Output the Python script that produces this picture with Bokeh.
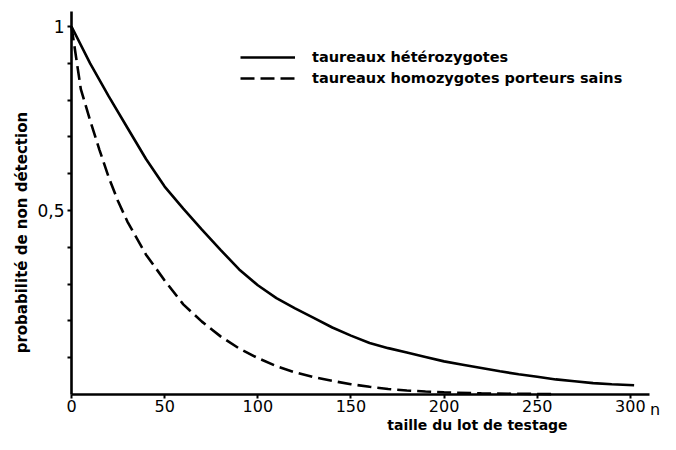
import math
from bokeh.plotting import figure
from bokeh.models import Range1d, FixedTicker, Legend, LegendItem, Label
from bokeh.embed import file_html
from bokeh.resources import INLINE

# taille du lot de testage (n)
n_het = [0, 10, 20, 30, 40, 50, 60, 70, 80, 90, 100, 110, 120, 130, 140, 150,
         160, 170, 180, 190, 200, 210, 220, 230, 240, 250, 260, 270, 280, 290, 302]
# probabilité de non détection, taureaux hétérozygotes
p_het = [1.0, 0.90, 0.81, 0.725, 0.64, 0.565, 0.505, 0.448, 0.393, 0.340, 0.297,
         0.262, 0.234, 0.208, 0.182, 0.160, 0.140, 0.126, 0.114, 0.102, 0.090,
         0.081, 0.072, 0.063, 0.055, 0.048, 0.041, 0.036, 0.031, 0.028, 0.025]

n_hom = [0, 5, 10, 15, 20, 25, 30, 40, 50, 60, 70, 80, 90, 100, 110, 120, 130,
         140, 150, 160, 170, 180, 190, 200, 220, 240, 260]
# probabilité de non détection, taureaux homozygotes porteurs sains
p_hom = [1.0, 0.83, 0.745, 0.665, 0.59, 0.525, 0.47, 0.38, 0.31, 0.245, 0.198,
         0.158, 0.125, 0.099, 0.077, 0.060, 0.047, 0.037, 0.028, 0.021, 0.015,
         0.011, 0.008, 0.006, 0.003, 0.002, 0.001]

x_ticks = [0, 50, 100, 150, 200, 250, 300]
y_ticks = [0.1, 0.2, 0.3, 0.4, 0.5, 0.6, 0.7, 0.8, 0.9, 1.0]
y_labels = {0.5: "0,5", 1.0: "1"}

FONT = "DejaVu Sans"

p = figure(width=660, height=434, output_backend="svg", toolbar_location=None,
           x_range=Range1d(-38.11, 316.16), y_range=Range1d(-0.1087, 1.0707),
           min_border_left=0, min_border_right=0, min_border_top=0,
           min_border_bottom=0)
p.outline_line_color = None
p.xgrid.visible = False
p.ygrid.visible = False

r1 = p.line(n_het, p_het, line_color="black", line_width=2.6)
r2 = p.line(n_hom, p_hom, line_color="black", line_width=2.6, line_dash="14 6")

for ax in (p.xaxis[0], p.yaxis[0]):
    ax.fixed_location = 0
    ax.axis_line_width = 2.6
    ax.axis_line_color = "black"
    ax.major_tick_line_width = 2
    ax.major_tick_in = 0
    ax.major_tick_out = 4
    ax.minor_tick_line_color = None
    ax.major_label_text_font = FONT
    ax.major_label_text_color = "black"

p.xaxis.ticker = FixedTicker(ticks=x_ticks)
p.xaxis.bounds = (0, 310.5)
p.xaxis.major_label_text_font_size = "16px"
p.xaxis.major_label_standoff = 1
p.yaxis.ticker = FixedTicker(ticks=y_ticks)
p.yaxis.bounds = (0, 1.0408)
p.yaxis.major_label_overrides = {t: y_labels.get(t, "") for t in y_ticks}
p.yaxis.major_label_text_font_size = "17px"
p.yaxis.major_label_standoff = 3

p.add_layout(Label(x=316, y=0, y_offset=-5, text="n", text_font=FONT,
                   text_font_size="16px", text_color="black",
                   text_align="right", text_baseline="top"))
p.add_layout(Label(x=217.9, y=0, y_offset=-30, text="taille du lot de testage",
                   text_font=FONT, text_font_size="14px", text_font_style="bold",
                   text_color="black", text_align="center",
                   text_baseline="alphabetic"))
p.add_layout(Label(x=0, y=0.44, x_offset=-49, text="probabilité de non détection",
                   angle=math.pi / 2, text_font=FONT, text_font_size="15px",
                   text_font_style="bold", text_color="black",
                   text_align="center", text_baseline="middle"))

legend = Legend(items=[LegendItem(label="taureaux hétérozygotes", renderers=[r1]),
                       LegendItem(label="taureaux homozygotes porteurs sains", renderers=[r2])],
                location=(240, 346), padding=0, margin=0, spacing=1,
                glyph_width=55, glyph_height=20, label_height=20,
                label_standoff=17, border_line_alpha=0,
                background_fill_alpha=0, label_text_font=FONT,
                label_text_color="black",
                label_text_font_size="14.5px", label_text_font_style="bold")
p.add_layout(legend)

open("out.html", "w").write(file_html(p, INLINE))
